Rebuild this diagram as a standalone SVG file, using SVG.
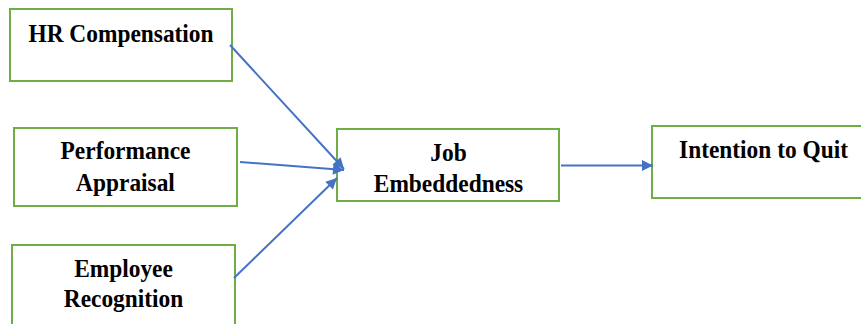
<svg xmlns="http://www.w3.org/2000/svg" width="861" height="324" viewBox="0 0 861 324">
  <style>
    .box { fill: #ffffff; stroke: #70ad47; stroke-width: 2; }
    .lbl { font-family: "Liberation Serif", "Times New Roman", serif; font-weight: bold; font-size: 23.4px; fill: #000000; text-anchor: middle; }
    .link { stroke: #4472c4; stroke-width: 2; fill: none; marker-end: url(#arrow); }
  </style>
  <defs>
    <marker id="arrow" viewBox="0 0 10 10" refX="10" refY="5" markerWidth="6.5" markerHeight="5.5" markerUnits="strokeWidth" orient="auto">
      <path d="M0,0 L10,5 L0,10 z" fill="#4472c4"/>
    </marker>
  </defs>
  <rect width="861" height="324" fill="#ffffff"/>

  <!-- labels are set slightly tall: scale(1,1.1) about each baseline -->
  <g id="hr-compensation">
    <rect class="box" x="10" y="9" width="222" height="72"/>
    <text class="lbl" transform="translate(121,41.7) scale(1,1.1)">HR Compensation</text>
  </g>

  <g id="performance-appraisal">
    <rect class="box" x="14" y="128" width="223" height="78"/>
    <text class="lbl" transform="translate(125.5,159) scale(1,1.1)">Performance</text>
    <text class="lbl" transform="translate(125.5,190.7) scale(1,1.1)">Appraisal</text>
  </g>

  <g id="employee-recognition">
    <rect class="box" x="12" y="245" width="223" height="90"/>
    <text class="lbl" transform="translate(123.5,276.7) scale(1,1.1)">Employee</text>
    <text class="lbl" transform="translate(123.5,306.7) scale(1,1.1)">Recognition</text>
  </g>

  <g id="job-embeddedness">
    <rect class="box" x="337" y="129" width="222" height="72"/>
    <text class="lbl" transform="translate(448.5,160.7) scale(1,1.1)">Job</text>
    <text class="lbl" transform="translate(448.5,192) scale(1,1.1)">Embeddedness</text>
  </g>

  <g id="intention-to-quit">
    <rect class="box" x="652" y="126" width="220" height="72"/>
    <text class="lbl" transform="translate(763.5,157.7) scale(1,1.1)">Intention to Quit</text>
  </g>

  <g id="connectors">
    <line class="link" x1="230" y1="45" x2="344" y2="169"/>
    <line class="link" x1="240" y1="162" x2="344" y2="170"/>
    <line class="link" x1="234" y1="278" x2="337" y2="178"/>
    <line class="link" x1="561" y1="165.5" x2="653" y2="165.5"/>
  </g>
</svg>
